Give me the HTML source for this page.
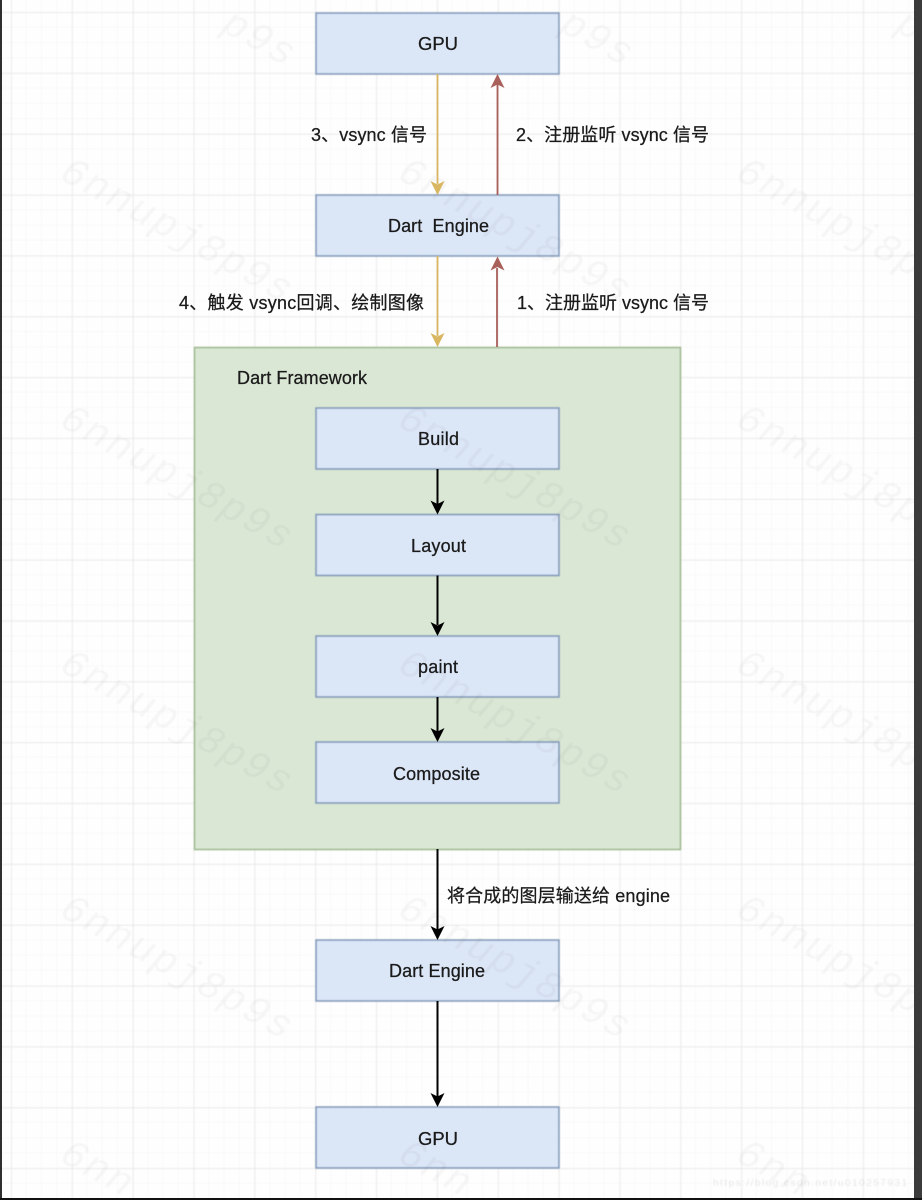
<!DOCTYPE html>
<html><head><meta charset="utf-8"><style>
html,body{margin:0;padding:0;background:#fff;width:922px;height:1200px;overflow:hidden}
svg{display:block}
text{font-family:"Liberation Sans","Noto Sans CJK SC",sans-serif;font-size:18px;fill:#1a1a1a;stroke:#1a1a1a;stroke-width:.25}
text.wm{font-family:"Liberation Mono",monospace;font-style:italic;font-size:40px;letter-spacing:2px;fill:#000;fill-opacity:.03;stroke:none}
text.credit{font-size:10px;fill:#000;fill-opacity:.09;stroke:none}
</style></head><body>
<svg width="922" height="1200" viewBox="0 0 922 1200" xmlns="http://www.w3.org/2000/svg">
<defs>
<pattern id="minor" x="11.3" y="12.3" width="15.21" height="15.21" patternUnits="userSpaceOnUse"><path d="M15.21 0V15.21M0 15.21H15.21" fill="none" stroke="#f3f3f3" stroke-width="1"/></pattern>
<pattern id="major" x="11.3" y="12.3" width="60.85" height="60.85" patternUnits="userSpaceOnUse"><path d="M0 0V60.85M0 0H60.85" fill="none" stroke="#e4e4e4" stroke-width="1.2"/></pattern>
<filter id="soft"><feGaussianBlur stdDeviation="0.45"/></filter>
<filter id="softer"><feGaussianBlur stdDeviation="0.38"/></filter>
<filter id="line"><feGaussianBlur stdDeviation="0.25"/></filter>
</defs>
<g filter="url(#soft)">
<rect width="922" height="1200" fill="#fefefe"/>
<rect width="922" height="1200" fill="url(#minor)"/>
<rect width="922" height="1200" fill="url(#major)"/>

<rect x="194.5" y="347.5" width="486" height="502" fill="#dae7d5" stroke="#9db98c" stroke-width="1.6"/>

<g fill="#dbe6f7" stroke="#7e97b8" stroke-width="1.6">
<rect x="316" y="13" width="243" height="61"/>
<rect x="316" y="195" width="243" height="61"/>
<rect x="316" y="408" width="243" height="61"/>
<rect x="316" y="514.5" width="243" height="61"/>
<rect x="316" y="636" width="243" height="61"/>
<rect x="316" y="742" width="243" height="61"/>
<rect x="316" y="940" width="243" height="61"/>
<rect x="316" y="1107" width="243" height="61"/>
</g>

<g>
<text class="wm" transform="translate(220,30) rotate(29)">p9s</text>
<text class="wm" transform="translate(558,30) rotate(29)">p9s</text>
<text class="wm" transform="translate(894,30) rotate(29)">p</text>
<text class="wm" transform="translate(58,178) rotate(29)">6nnupj8p9s</text>
<text class="wm" transform="translate(396,178) rotate(29)">6nnupj8p9s</text>
<text class="wm" transform="translate(734,178) rotate(29)">6nnupj8p</text>
<text class="wm" transform="translate(58,425) rotate(29)">6nnupj8p9s</text>
<text class="wm" transform="translate(396,425) rotate(29)">6nnupj8p9s</text>
<text class="wm" transform="translate(734,425) rotate(29)">6nnupj8p</text>
<text class="wm" transform="translate(58,670) rotate(29)">6nnupj8p9s</text>
<text class="wm" transform="translate(396,670) rotate(29)">6nnupj8p9s</text>
<text class="wm" transform="translate(734,670) rotate(29)">6nnupj8p</text>
<text class="wm" transform="translate(58,915) rotate(29)">6nnupj8p9s</text>
<text class="wm" transform="translate(396,915) rotate(29)">6nnupj8p9s</text>
<text class="wm" transform="translate(734,915) rotate(29)">6nnupj8p</text>
<text class="wm" transform="translate(58,1160) rotate(29)">6nn</text>
<text class="wm" transform="translate(396,1160) rotate(29)">6nn</text>
<text class="wm" transform="translate(734,1160) rotate(29)">6nn</text>
</g>
<text class="credit" x="713" y="1186" textLength="194">https://blog.csdn.net/u010257931</text>
</g>
<g filter="url(#line)">
<g fill="none" stroke-width="1.8">
<path d="M437.5 74V184M437.5 256V336" stroke="#d9b661"/>
<path d="M497.5 195V84M497 347V268" stroke="#a9605a"/>
<path d="M437.5 469V504M437.5 575.5V625M437.5 697V732M437.5 849V930M437.5 1001V1097" stroke="#000" stroke-width="2"/>
</g>
<g fill="#d9b661">
<path d="M437.5 195l-7-14 7 3.500 7-3.500z"/>
<path d="M437.500 347l-7-14 7 3.500 7-3.500z"/>
</g>
<g fill="#a9605a">
<path d="M497.500 74l-7 14 7-3.500 7 3.500z"/>
<path d="M497.500 256.500l-7 14 7-3.500 7 3.500z"/>
</g>
<g fill="#000">
<path d="M437.500 514.500l-7-14 7 3.500 7-3.500z"/>
<path d="M437.500 636l-7-14 7 3.500 7-3.500z"/>
<path d="M437.500 742l-7-14 7 3.500 7-3.500z"/>
<path d="M437.500 940l-7-14 7 3.500 7-3.500z"/>
<path d="M437.500 1107l-7-14 7 3.500 7-3.500z"/>
</g>
</g>
<g filter="url(#softer)">
<text x="418" y="50" textLength="40" lengthAdjust="spacingAndGlyphs">GPU</text>
<text x="388" y="232" textLength="101" lengthAdjust="spacing" xml:space="preserve">Dart  Engine</text>
<text x="418" y="445" textLength="41">Build</text>
<text x="411" y="552" textLength="55">Layout</text>
<text x="418" y="673" textLength="40">paint</text>
<text x="393" y="780" textLength="87">Composite</text>
<text x="389" y="977" textLength="96">Dart Engine</text>
<text x="418" y="1145" textLength="40" lengthAdjust="spacingAndGlyphs">GPU</text>
<text x="237" y="384" textLength="130">Dart Framework</text>
<text x="311" y="141" textLength="116">3、vsync 信号</text>
<text x="516" y="141" textLength="193">2、注册监听 vsync 信号</text>
<text x="517" y="309" textLength="192">1、注册监听 vsync 信号</text>
<text x="179" y="309" textLength="245">4、触发 vsync回调、绘制图像</text>
<text x="447" y="902" textLength="223">将合成的图层输送给 engine</text>
</g>
<rect x="0" y="0" width="2" height="1200" fill="#2f2f2f"/>
<rect x="914" y="0" width="8" height="1200" fill="#3b3b3b"/>
<rect x="0" y="1198" width="922" height="2" fill="#111"/>
</svg>
</body></html>
